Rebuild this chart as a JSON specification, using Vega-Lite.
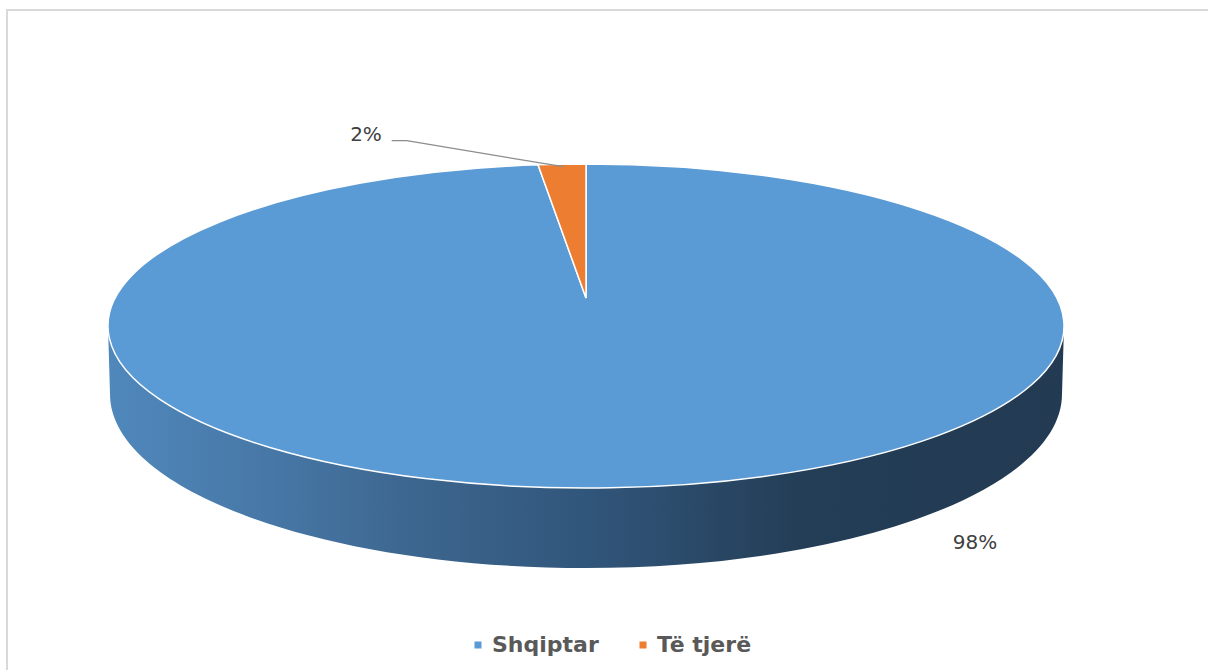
{
  "$schema": "https://vega.github.io/schema/vega-lite/v6.json",
  "width": 1208,
  "height": 670,
  "autosize": {"type": "none"},
  "padding": 0,
  "background": "white",
  "config": {"view": {"stroke": null}},
  "data": {"values": [
    {"group": "Shqiptar", "value": 98, "label": "98%"},
    {"group": "Të tjerë", "value": 2, "label": "2%"}
  ]},
  "layer": [
    {
      "transform": [{"filter": "datum.group === 'Shqiptar'"}],
      "mark": {
        "type": "point", "filled": false, "opacity": 1, "size": 1000000,
        "shape": "M -1.194 0.73 L -1.194 -0.65 L 1.252 -0.65",
        "stroke": "#d9d9d9", "strokeWidth": 2, "fill": "transparent"
      },
      "encoding": {}
    },
    {
      "transform": [{"filter": "datum.group === 'Shqiptar'"}],
      "mark": {
        "type": "point", "filled": true, "opacity": 1, "size": 1000000,
        "shape": "M -0.992 -0.018 L -0.988 0.118 A 0.952 0.348 0 0 0 0.916 0.118 L 0.92 -0.018 Z",
        "fill": {"gradient": "linear", "x1": 0, "y1": 0, "x2": 1, "y2": 0, "stops": [
          {"offset": 0, "color": "#5088bc"},
          {"offset": 0.2, "color": "#4574a2"},
          {"offset": 0.3, "color": "#3e6891"},
          {"offset": 0.5, "color": "#31567b"},
          {"offset": 0.72, "color": "#243e57"},
          {"offset": 1, "color": "#223a52"}
        ]},
        "strokeWidth": 0
      },
      "encoding": {}
    },
    {
      "transform": [{"filter": "datum.group === 'Shqiptar'"}],
      "mark": {
        "type": "point", "filled": true, "opacity": 1, "size": 1000000,
        "shape": "M -0.036 -0.074 L -0.132 -0.340362 A 0.956 0.324 0 1 0 -0.036 -0.342 Z",
        "stroke": "white", "strokeWidth": 1.5, "strokeOpacity": 1
      },
      "encoding": {
        "color": {
          "field": "group", "type": "nominal",
          "scale": {"domain": ["Shqiptar", "Të tjerë"], "range": ["#5b9bd5", "#ed7d31"]},
          "legend": {
            "title": null, "orient": "none", "direction": "horizontal",
            "legendX": 467, "legendY": 634,
            "symbolType": "square", "symbolSize": 49, "symbolStrokeWidth": 0,
            "labelFont": "DejaVu Sans", "labelFontSize": 22, "labelFontWeight": "bold",
            "labelColor": "#595959", "labelOffset": 3, "columnPadding": 33,
            "encode": {"symbols": {"update": {"shape": {"value": "square"}, "size": {"value": 49}, "strokeWidth": {"value": 0}}}}
          }
        }
      }
    },
    {
      "transform": [{"filter": "datum.group === 'Të tjerë'"}],
      "mark": {
        "type": "point", "filled": true, "opacity": 1, "size": 1000000,
        "shape": "M -0.036 -0.074 L -0.036 -0.342 A 0.956 0.324 0 0 0 -0.132 -0.340362 Z",
        "stroke": "white", "strokeWidth": 1.5, "strokeOpacity": 1
      },
      "encoding": {
        "color": {"field": "group", "type": "nominal"}
      }
    },
    {
      "transform": [{"filter": "datum.group === 'Të tjerë'"}],
      "mark": {
        "type": "point", "filled": false, "opacity": 1, "size": 1000000,
        "shape": "M -0.4246 -0.3886 L -0.3946 -0.3886 L -0.0814 -0.3366",
        "stroke": "#8c8c8c", "strokeWidth": 1.2, "fill": "transparent"
      },
      "encoding": {}
    },
    {
      "transform": [{"filter": "datum.group === 'Shqiptar'"}],
      "mark": {
        "type": "text", "font": "DejaVu Sans", "fontSize": 20, "color": "#404040",
        "align": "center", "baseline": "middle", "dx": 371, "dy": 208
      },
      "encoding": {"text": {"field": "label"}}
    },
    {
      "transform": [{"filter": "datum.group === 'Të tjerë'"}],
      "mark": {
        "type": "text", "font": "DejaVu Sans", "fontSize": 20, "color": "#404040",
        "align": "center", "baseline": "middle", "dx": -238, "dy": -200
      },
      "encoding": {"text": {"field": "label"}}
    }
  ]
}
